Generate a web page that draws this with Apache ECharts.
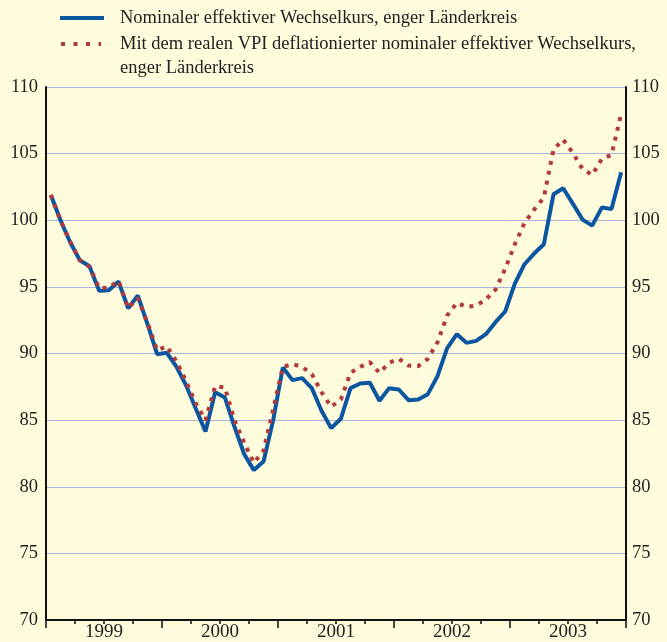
<!DOCTYPE html>
<html>
<head>
<meta charset="utf-8">
<script src="https://cdn.jsdelivr.net/npm/echarts@6/dist/echarts.min.js"></script>
<style>
  html, body { margin: 0; padding: 0; background: #fffcde; }
  #chart { width: 667px; height: 642px; }
</style>
</head>
<body>
<div id="chart"></div>
<script>
// Monate Jan 1999 - Dez 2003
var years = ['1999', '2000', '2001', '2002', '2003'];
var months = [];
var quarters = [];
years.forEach(function (y) {
  for (var m = 1; m <= 12; m++) months.push(y + '-' + (m < 10 ? '0' + m : m));
  for (var q = 1; q <= 4; q++) quarters.push(y + ' Q' + q);
});

// Nominaler effektiver Wechselkurs
var nominal = [
  101.9, 100.0, 98.35, 97.0, 96.55, 94.7, 94.75, 95.4, 93.4, 94.35, 92.2, 89.95,
  90.05, 89.0, 87.6, 85.85, 84.15, 87.1, 86.7, 84.5, 82.45, 81.25, 81.9, 85.0,
  88.95, 88.0, 88.15, 87.4, 85.7, 84.4, 85.1, 87.4, 87.75, 87.8, 86.45, 87.4,
  87.3, 86.5, 86.55, 86.95, 88.3, 90.4, 91.45, 90.8, 90.95, 91.45, 92.35, 93.15,
  95.25, 96.7, 97.5, 98.2, 101.95, 102.4, 101.25, 100.05, 99.6, 100.95, 100.85, 103.6
];
// Mit dem VPI deflationiert
var real = [
  101.9, 100.0, 98.4, 97.0, 96.5, 94.9, 94.95, 95.45, 93.4, 94.15, 92.3, 90.25,
  90.55, 89.4, 87.9, 86.25, 85.0, 87.55, 87.45, 85.0, 83.3, 81.8, 82.7, 85.8,
  89.0, 89.2, 89.0, 88.45, 87.1, 86.0, 86.55, 88.55, 89.0, 89.35, 88.55, 89.3,
  89.6, 89.1, 89.05, 89.6, 90.85, 92.85, 93.8, 93.5, 93.6, 94.05, 94.8, 96.35,
  98.2, 99.8, 100.8, 101.7, 105.3, 106.05, 105.05, 103.85, 103.4, 104.6, 104.9, 108.0
];
var legendLines = [
  'Nominaler effektiver Wechselkurs, enger Länderkreis',
  'Mit dem realen VPI deflationierter nominaler effektiver Wechselkurs,',
  'enger Länderkreis'
];

var blue = '#0b56a0';
var red = '#b23a3a';
var font = 'Liberation Serif';
var lblFont = '18.5px "Liberation Serif"';

var chart = echarts.init(document.getElementById('chart'));
chart.setOption({
  backgroundColor: '#fffcde',
  animation: false,
  textStyle: { fontFamily: font },
  // Legende von Hand
  graphic: [
    { type: 'line', shape: { x1: 60, y1: 18, x2: 104, y2: 18 }, style: { stroke: blue, lineWidth: 4 } },
    { type: 'line', shape: { x1: 61, y1: 44, x2: 101, y2: 44 }, style: { stroke: red, lineWidth: 4, lineDash: [4, 8.5] } },
    { type: 'text', x: 120, y: 18, style: { text: legendLines[0], font: lblFont, fill: '#222', textVerticalAlign: 'middle' } },
    { type: 'text', x: 120, y: 44, style: { text: legendLines[1], font: lblFont, fill: '#222', textVerticalAlign: 'middle' } },
    { type: 'text', x: 120, y: 68, style: { text: legendLines[2], font: lblFont, fill: '#222', textVerticalAlign: 'middle' } }
  ],
  grid: { left: 46, right: 41, top: 87, bottom: 21 },
  xAxis: [{
    type: 'category',
    data: months,
    boundaryGap: true,
    axisLine: { lineStyle: { color: '#111', width: 2 } },
    axisTick: { show: false },
    axisLabel: { show: false },
    splitLine: { show: false }
  }, {
    type: 'category',
    data: years,
    position: 'bottom',
    boundaryGap: true,
    axisLine: { show: false },
    axisTick: { show: true, interval: 0, length: 8, lineStyle: { color: '#111', width: 1.5 } },
    axisLabel: { fontFamily: font, fontSize: 19, color: '#222', margin: 3 },
    splitLine: { show: false }
  }, {
    type: 'category',
    data: quarters,
    position: 'bottom',
    boundaryGap: true,
    axisLine: { show: false },
    axisTick: { show: true, interval: 0, length: 4, lineStyle: { color: '#111', width: 1.5 } },
    axisLabel: { show: false },
    splitLine: { show: false }
  }],
  yAxis: [{
    type: 'value',
    min: 70, max: 110, interval: 5,
    position: 'left',
    axisLine: { show: true, lineStyle: { color: '#111', width: 2 } },
    axisTick: { show: false },
    axisLabel: { fontFamily: font, fontSize: 18.5, color: '#222', margin: 8 },
    splitLine: { lineStyle: { color: '#a8b6dc', width: 1.2 } }
  }, {
    type: 'value',
    min: 70, max: 110, interval: 5,
    position: 'right',
    axisLine: { show: true, lineStyle: { color: '#111', width: 2 } },
    axisTick: { show: false },
    axisLabel: { fontFamily: font, fontSize: 18.5, color: '#222', margin: 6 },
    splitLine: { show: false }
  }],
  series: [{
    name: legendLines[0],
    type: 'line',
    data: nominal,
    symbol: 'none',
    z: 3,
    lineStyle: { color: blue, width: 4 }
  }, {
    name: legendLines[1],
    type: 'line',
    data: real,
    symbol: 'none',
    z: 4,
    lineStyle: { color: red, width: 4, type: [4, 6], cap: 'butt' }
  }]
});
</script>
</body>
</html>
